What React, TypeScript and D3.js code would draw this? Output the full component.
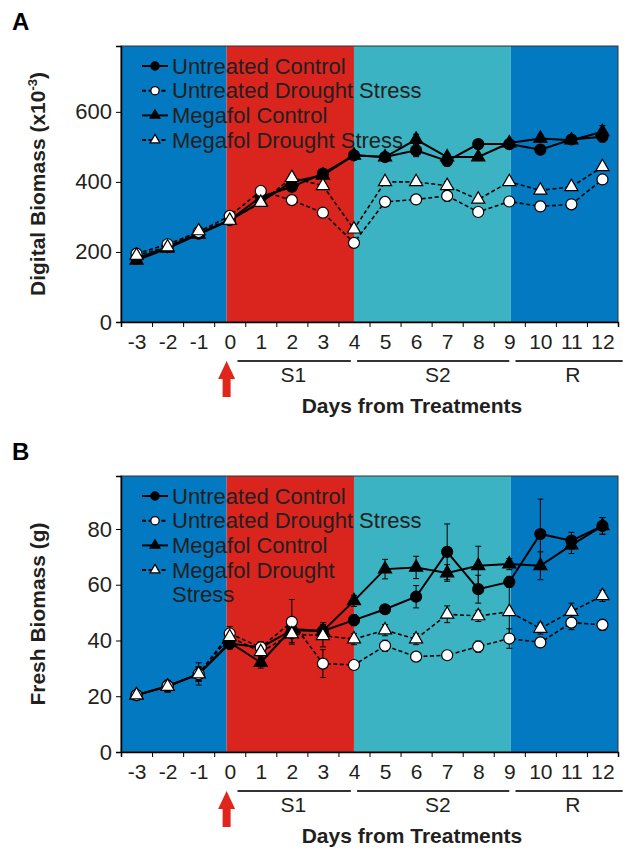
import { useRef, useEffect } from 'react';
import * as d3 from 'd3';

const days = [-3, -2, -1, 0, 1, 2, 3, 4, 5, 6, 7, 8, 9, 10, 11, 12];
const seriesNames = ['Untreated Control', 'Untreated Drought Stress', 'Megafol Control', 'Megafol Drought Stress'];

// panel A - digital biomass (x10^-3)
const digitalUC = [181, 214, 252, 291, 357, 386, 424, 476, 471, 490, 460, 508, 508, 492, 521, 529];
const digitalUDS = [195, 222, 257, 303, 374, 348, 312, 226, 343, 350, 360, 314, 344, 330, 336, 407];
const digitalMC = [176, 210, 250, 290, 343, 400, 419, 476, 471, 521, 471, 471, 511, 524, 519, 543];
const digitalMDS = [190, 214, 260, 290, 341, 412, 389, 265, 400, 400, 389, 350, 400, 376, 386, 443];
const digitalUCErr = [5, 5, 5, 5, 5, 8, 8, 10, 10, 18, 15, 8, 8, 8, 8, 15];
const digitalUDSErr = [5, 5, 5, 5, 5, 5, 5, 5, 8, 8, 15, 8, 8, 5, 5, 8];
const digitalMCErr = [5, 5, 5, 5, 5, 8, 8, 10, 8, 15, 10, 8, 8, 10, 8, 18];
const digitalMDSErr = [5, 5, 5, 5, 5, 8, 8, 8, 8, 8, 12, 8, 8, 8, 8, 8];
const digitalTicks = [0, 200, 400, 600];

// panel B - fresh biomass (g)
const freshUC = [20.4, 23.7, 27.9, 38.9, 37.5, 43.7, 43.4, 47.3, 51.2, 55.7, 71.8, 58.4, 61, 78.2, 75.8, 81.1];
const freshUDS = [20.4, 23.7, 28, 42.5, 37.5, 46.7, 31.7, 31.2, 38.1, 34.2, 34.7, 37.8, 40.7, 39.3, 46.4, 45.6];
const freshMC = [20.4, 23.5, 28, 39.3, 32.1, 44.1, 43.4, 54.2, 65.6, 66.2, 64.2, 66.8, 67.4, 66.8, 74.2, 81.1];
const freshMDS = [20.4, 23.5, 28, 41.3, 35.9, 42.3, 41.7, 40.5, 43.7, 40.5, 49.4, 48.8, 50.3, 44.3, 50.4, 56];
const freshUCErr = [1, 2, 2.5, 2, 2, 3, 2, 2, 1.5, 4, 10, 5, 2, 12.5, 3, 3];
const freshUDSErr = [1, 2, 2.5, 2.5, 2, 8, 5, 1.5, 2, 1.5, 1.5, 2, 3.5, 1.5, 2.5, 2];
const freshMCErr = [1, 2, 2.5, 2, 2, 3, 3, 2, 3.5, 4, 3, 7, 2, 5, 3, 3];
const freshMDSErr = [1, 2, 4, 2, 2, 3, 4, 2, 2, 2, 3, 2, 10, 2, 3, 2];
const freshTicks = [0, 20, 40, 60, 80];

// treatment phases (days)
const phaseBounds = [-3.5, -0.1, 4, 9.05, 12.5];
const phaseColors = ['#0279c1', '#da251e', '#3cb3c3', '#0279c1'];
const stageNames = ['S1', 'S2', 'R'];
const stageSpans = [[0.25, 3.9], [4.1, 9.0], [9.2, 12.65]];
const stageLabelAt = [2.05, 6.7, 11.05];
const treatmentDay = -0.1;

const FONT = '"Liberation Sans", Arial, sans-serif';
const INK = '#231f20';

type PanelCfg = {
  letter: string;
  top: number;
  yMax: number;
  ticks: number[];
  yTitle: string;
  yTitleSup?: string;
  series: number[][];
  errs: number[][];
  legend: string[][];
};

const panels: PanelCfg[] = [
  {
    letter: 'A', top: 46, yMax: 788, ticks: digitalTicks,
    yTitle: 'Digital Biomass (x10', yTitleSup: '-3',
    series: [digitalUC, digitalUDS, digitalMC, digitalMDS],
    errs: [digitalUCErr, digitalUDSErr, digitalMCErr, digitalMDSErr],
    legend: seriesNames.map((s) => [s]),
  },
  {
    letter: 'B', top: 476, yMax: 99, ticks: freshTicks,
    yTitle: 'Fresh Biomass (g)',
    series: [freshUC, freshUDS, freshMC, freshMDS],
    errs: [freshUCErr, freshUDSErr, freshMCErr, freshMDSErr],
    legend: [[seriesNames[0]], [seriesNames[1]], [seriesNames[2]], ['Megafol Drought', 'Stress']],
  },
];

// style per series: filled?, triangle?, dashed?
const styles = [
  { fill: '#000', tri: false, dash: false },
  { fill: '#fff', tri: false, dash: true },
  { fill: '#000', tri: true, dash: false },
  { fill: '#fff', tri: true, dash: true },
];

const left = 121, right = 618, plotH = 276;

function drawMarker(g: any, cx: number, cy: number, i: number, scale = 1) {
  const st = styles[i];
  if (st.tri) {
    g.append('path')
      .attr('d', d3.symbol().type(d3.symbolTriangle).size(75 * scale * scale)())
      .attr('transform', `translate(${cx},${cy})`)
      .attr('fill', st.fill).attr('stroke', '#000').attr('stroke-width', 1.2);
  } else {
    g.append('circle').attr('cx', cx).attr('cy', cy).attr('r', 5.5 * scale)
      .attr('fill', st.fill).attr('stroke', '#000').attr('stroke-width', 1.2);
  }
}

function drawPanel(svg: any, cfg: PanelCfg) {
  const top = cfg.top, bottom = top + plotH;
  const x = d3.scaleLinear().domain([-3.5, 12.5]).range([left, right]);
  const y = d3.scaleLinear().domain([0, cfg.yMax]).range([bottom, top]);
  const g = svg.append('g');

  // phase backgrounds
  phaseColors.forEach((c, i) => {
    g.append('rect')
      .attr('x', x(phaseBounds[i])).attr('y', top)
      .attr('width', x(phaseBounds[i + 1]) - x(phaseBounds[i]))
      .attr('height', plotH).attr('fill', c);
  });
  g.append('rect').attr('x', left).attr('y', top).attr('width', right - left).attr('height', plotH)
    .attr('fill', 'none').attr('stroke', '#333').attr('stroke-width', 1);

  // legend
  const lg = g.append('g');
  let row = 0;
  cfg.legend.forEach((lines, i) => {
    const cy = top + 20 + row * 24.7;
    lg.append('line').attr('x1', left + 21).attr('x2', left + 47).attr('y1', cy).attr('y2', cy)
      .attr('stroke', '#000').attr('stroke-width', 2)
      .attr('stroke-dasharray', styles[i].dash ? '4,2.5' : null);
    drawMarker(lg, left + 34, cy, i, 0.75);
    lines.forEach((t, k) => {
      lg.append('text').attr('x', left + 51).attr('y', cy + 7.5 + k * 24.7)
        .attr('font-family', FONT).attr('font-size', 22).attr('fill', INK).text(t);
    });
    row += lines.length;
  });

  // lines, errors, markers
  const order = [0, 2, 1, 3];
  order.forEach((i) => {
    const vals = cfg.series[i];
    const ln = d3.line<number>().x((_, k) => x(days[k])).y((v) => y(v));
    g.append('path').attr('d', ln(vals)).attr('fill', 'none').attr('stroke', '#000')
      .attr('stroke-width', styles[i].dash ? 1.6 : 2)
      .attr('stroke-dasharray', styles[i].dash ? '4,2.5' : null);
  });
  order.forEach((i) => {
    const vals = cfg.series[i];
    vals.forEach((v, k) => {
      const e = cfg.errs[i][k];
      const cx = x(days[k]);
      g.append('line').attr('x1', cx).attr('x2', cx).attr('y1', y(v - e)).attr('y2', y(v + e))
        .attr('stroke', '#000').attr('stroke-width', 1);
      [v - e, v + e].forEach((b) => {
        g.append('line').attr('x1', cx - 3).attr('x2', cx + 3).attr('y1', y(b)).attr('y2', y(b))
          .attr('stroke', '#000').attr('stroke-width', 1);
      });
    });
  });
  order.forEach((i) => {
    cfg.series[i].forEach((v, k) => drawMarker(g, x(days[k]), y(v), i));
  });

  // y axis
  const ya = g.append('g').attr('transform', `translate(${left},0)`)
    .call(d3.axisLeft(y).tickValues(cfg.ticks).tickSize(5).tickPadding(4));
  ya.select('.domain').attr('stroke', '#000').attr('stroke-width', 1.5);
  ya.selectAll('text').attr('font-family', FONT).attr('font-size', 22).attr('fill', INK);

  // x axis: ticks at day boundaries, labels at day centers
  const edges = d3.range(-3.5, 13, 1);
  const xa = g.append('g').attr('transform', `translate(0,${bottom})`)
    .call(d3.axisBottom(x).tickValues(edges).tickSize(5).tickFormat(() => ''));
  xa.select('.domain').attr('stroke', '#000').attr('stroke-width', 1.5);
  const xl = g.append('g').attr('transform', `translate(0,${bottom})`)
    .call(d3.axisBottom(x).tickValues(days).tickSize(0).tickPadding(12).tickFormat((d: any) => String(d)));
  xl.select('.domain').remove();
  xl.selectAll('text').attr('font-family', FONT).attr('font-size', 21).attr('fill', INK);

  // stage spans
  stageSpans.forEach((s, i) => {
    g.append('line').attr('x1', x(s[0])).attr('x2', x(s[1]))
      .attr('y1', bottom + 39).attr('y2', bottom + 39).attr('stroke', '#333').attr('stroke-width', 2);
    g.append('text').attr('x', x(stageLabelAt[i])).attr('y', bottom + 60).attr('text-anchor', 'middle')
      .attr('font-family', FONT).attr('font-size', 21).attr('fill', INK).text(stageNames[i]);
  });

  // treatment arrow
  const ax = x(treatmentDay), ay = bottom + 39;
  g.append('path')
    .attr('d', `M${ax},${ay} L${ax + 8.5},${ay + 18} L${ax + 4},${ay + 18} L${ax + 4},${ay + 36} L${ax - 4},${ay + 36} L${ax - 4},${ay + 18} L${ax - 8.5},${ay + 18} Z`)
    .attr('fill', '#e0261c');

  // axis titles
  g.append('text').attr('x', 412).attr('y', bottom + 91).attr('text-anchor', 'middle')
    .attr('font-family', FONT).attr('font-size', 21).attr('font-weight', 'bold').attr('fill', INK)
    .text('Days from Treatments');
  const yt = g.append('text').attr('transform', `translate(45,${top + plotH / 2}) rotate(-90)`)
    .attr('text-anchor', 'middle').attr('font-family', FONT).attr('font-size', 21)
    .attr('font-weight', 'bold').attr('fill', INK);
  yt.append('tspan').text(cfg.yTitle);
  if (cfg.yTitleSup) {
    yt.append('tspan').attr('font-size', 13).attr('dy', -8).text(cfg.yTitleSup);
    yt.append('tspan').attr('dy', 8).text(')');
  }

  g.append('text').attr('x', 12).attr('y', top - 16).attr('font-family', FONT)
    .attr('font-size', 24).attr('font-weight', 'bold').attr('fill', '#000').text(cfg.letter);
}

const App = () => {
  const svgRef = useRef<SVGSVGElement>(null);

  useEffect(() => {
    const svg = d3.select(svgRef.current);
    svg.selectAll('*').remove();
    panels.forEach((p) => drawPanel(svg, p));
  }, []);

  return (
    <svg ref={svgRef} width={638} height={854}
      style={{ position: 'absolute', left: 0, top: 0, background: '#fff' }} />
  );
};

export default App;
